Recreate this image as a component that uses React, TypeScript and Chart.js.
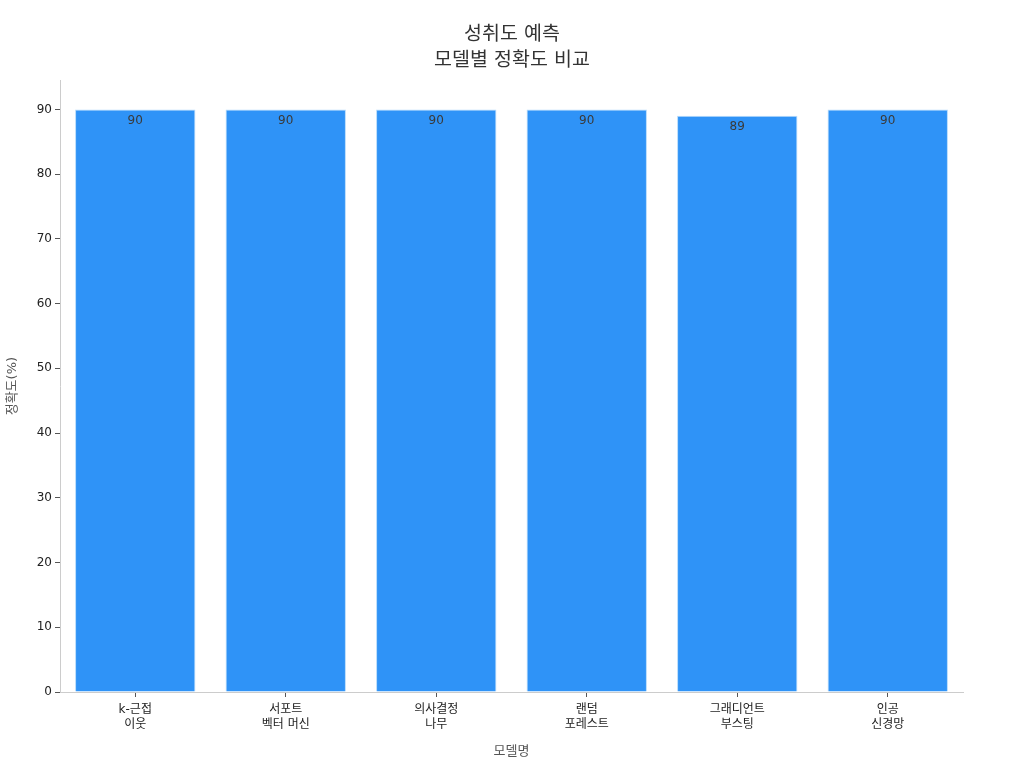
import React, { useEffect, useRef } from "react";
import { Chart, registerables } from "chart.js";

Chart.register(...registerables);

const categories: string[][] = [
  ["k-근접", "이웃"],
  ["서포트", "벡터 머신"],
  ["의사결정", "나무"],
  ["랜덤", "포레스트"],
  ["그래디언트", "부스팅"],
  ["인공", "신경망"],
];
const accuracy: number[] = [90, 90, 90, 90, 89, 90];
const yTicks: number[] = [0, 10, 20, 30, 40, 50, 60, 70, 80, 90];
const titleLines: string[] = ["성취도 예측", "모델별 정확도 비교"];

const FONT = "'DejaVu Sans', 'Noto Sans CJK KR', sans-serif";

const valueLabels = {
  id: "valueLabels",
  afterDatasetsDraw(chart: any) {
    const ctx = chart.ctx;
    const meta = chart.getDatasetMeta(0);
    ctx.save();
    ctx.font = `12px ${FONT}`;
    ctx.fillStyle = "#3a3a3a";
    ctx.textAlign = "center";
    ctx.textBaseline = "top";
    meta.data.forEach((bar: any, i: number) => {
      ctx.fillText(String(accuracy[i]), bar.x, bar.y + 5);
    });
    ctx.restore();
  },
};

export default function App() {
  const ref = useRef<HTMLCanvasElement | null>(null);
  useEffect(() => {
    if (!ref.current) return;
    const chart = new Chart(ref.current, {
      type: "bar",
      data: {
        labels: categories,
        datasets: [
          {
            data: accuracy,
            backgroundColor: "#2f93f7",
            borderColor: "#b9dcfb",
            borderWidth: 1,
            barPercentage: 1,
            categoryPercentage: 0.8,
          },
        ],
      },
      options: {
        animation: false,
        responsive: false,
        maintainAspectRatio: false,
        layout: { padding: 0 },
        plugins: {
          legend: { display: false },
          tooltip: { enabled: false },
          title: {
            display: true,
            text: titleLines,
            color: "#333333",
            font: { family: FONT, size: 19.5, weight: "normal", lineHeight: 1.34 },
            padding: { top: 22, bottom: 6 },
          },
        },
        scales: {
          x: {
            offset: true,
            grid: {
              display: true,
              drawOnChartArea: false,
              offset: false,
              tickLength: 5,
              color: "#555555",
            },
            border: { display: true, color: "#cccccc", width: 1 },
            ticks: {
              color: "#222222",
              font: { family: FONT, size: 12, lineHeight: 1.25 },
              padding: 5,
              maxRotation: 0,
            },
            title: {
              display: true,
              text: "모델명",
              color: "#555555",
              font: { family: FONT, size: 13 },
              padding: { top: 0, bottom: 9 },
            },
            afterFit(scale: any) {
              scale.height = 76;
            },
          },
          y: {
            min: 0,
            max: 94.5,
            afterBuildTicks(scale: any) {
              scale.ticks = yTicks.map((v) => ({ value: v }));
            },
            grid: {
              display: true,
              drawOnChartArea: false,
              tickLength: 5,
              color: "#555555",
            },
            border: { display: true, color: "#cccccc", width: 1 },
            ticks: {
              color: "#222222",
              font: { family: FONT, size: 12 },
              padding: 3,
            },
            title: {
              display: true,
              text: "정확도(%)",
              color: "#555555",
              font: { family: FONT, size: 13 },
              padding: { top: 5, bottom: 0 },
            },
            afterFit(scale: any) {
              scale.width = 60;
            },
          },
          yRight: {
            type: "linear",
            position: "right",
            display: true,
            grid: { display: false, drawTicks: false },
            border: { display: false },
            ticks: { display: false },
            afterFit(scale: any) {
              scale.width = 61;
            },
          },
        },
      },
      plugins: [valueLabels],
    });
    return () => chart.destroy();
  }, []);
  return (
    <div style={{ position: "fixed", left: 0, top: 0, width: 1024, height: 768, background: "#fff" }}>
      <canvas ref={ref} width={1024} height={768} style={{ width: 1024, height: 768 }} />
    </div>
  );
}
